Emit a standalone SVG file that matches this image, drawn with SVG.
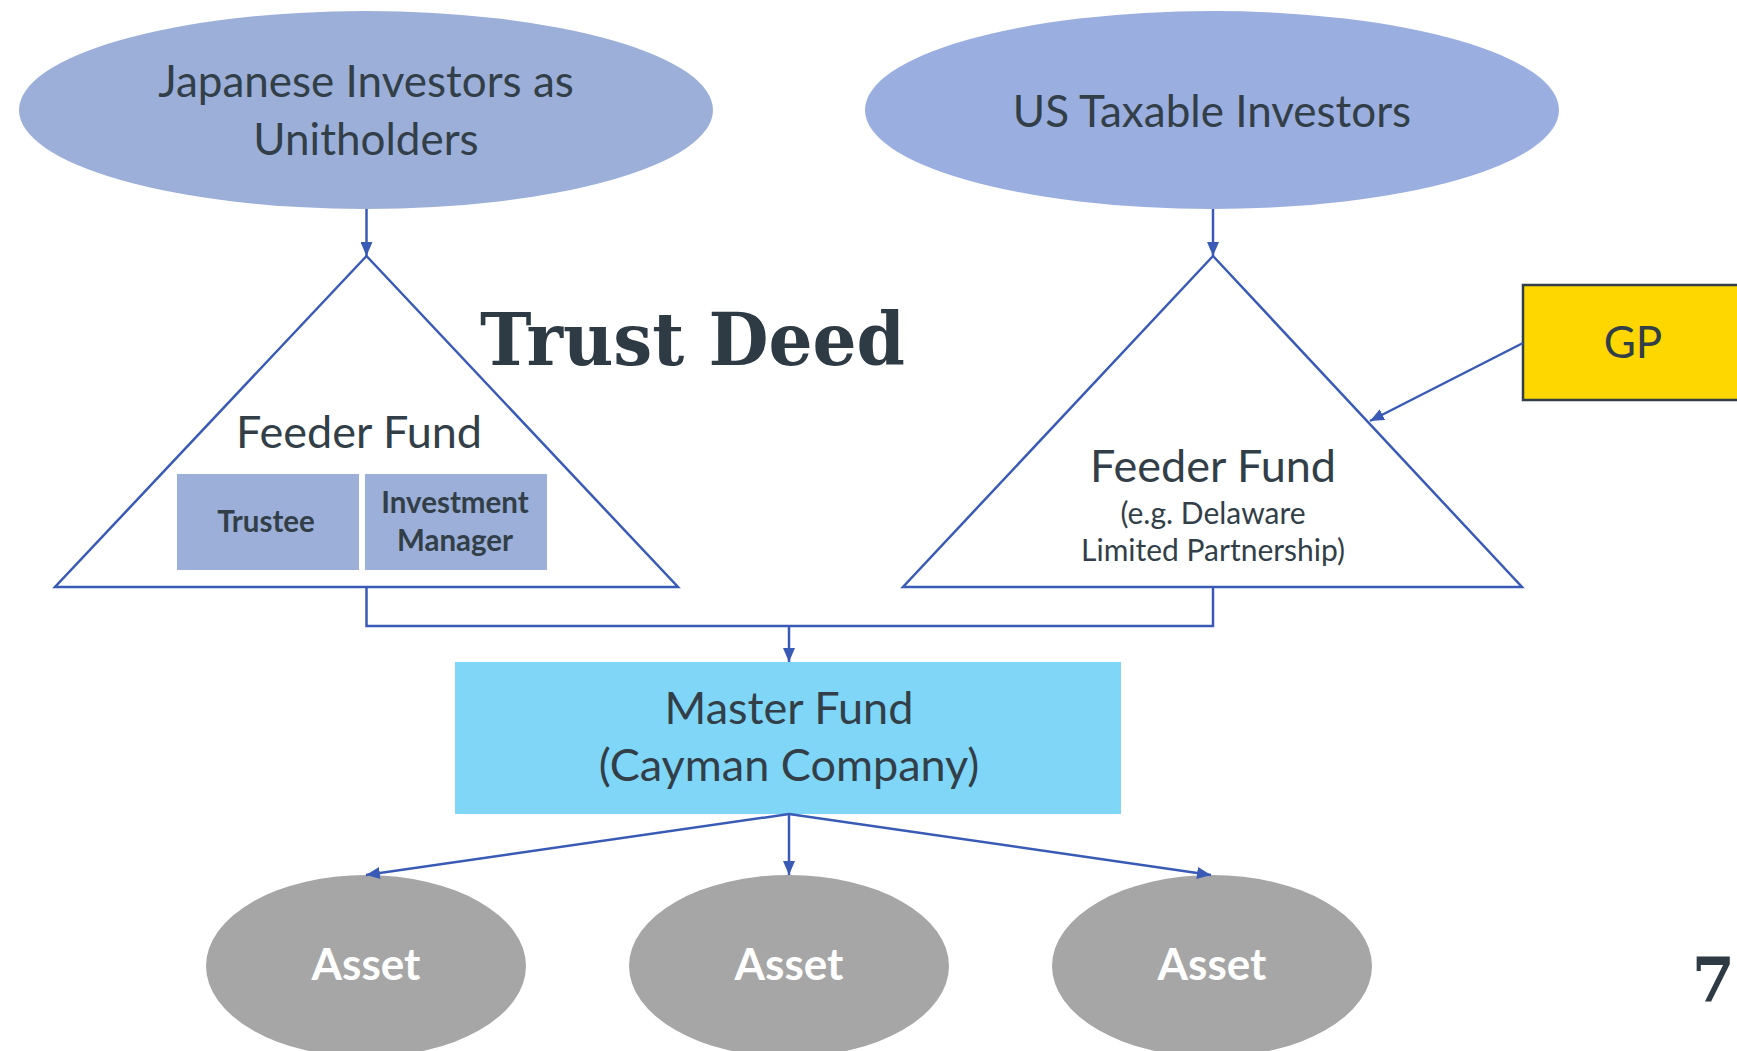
<svg xmlns="http://www.w3.org/2000/svg" width="1737" height="1051" viewBox="0 0 1737 1051">
<defs>
<marker id="ah" viewBox="0 0 14 12" refX="14" refY="6" markerWidth="14" markerHeight="12" markerUnits="userSpaceOnUse" orient="auto">
<path d="M0,0 L14,6 L0,12 Z" fill="#3A5BB5"/>
</marker>
<style>
.t{font-family:Lato,"Liberation Sans",sans-serif;fill:#333F48;text-anchor:middle}
.b{font-weight:bold}
.w{fill:#FFFFFF}
.ln{stroke:#3A5BB5;stroke-width:2.5;fill:none}
.tri{stroke:#3A5BB5;stroke-width:2.5;fill:#FFFFFF}
.sf{font-family:"DejaVu Serif","Liberation Serif",serif;font-weight:bold;fill:#2E3A44}
</style>
</defs>
<rect width="1737" height="1051" fill="#FFFFFF"/>

<g id="jp-investors">
<ellipse cx="366" cy="110" rx="347" ry="99" fill="#9CAFD8"/>
<text class="t" x="366" y="97" font-size="44">Japanese Investors as</text>
<text class="t" x="366" y="155" font-size="44">Unitholders</text>
</g>

<g id="us-investors">
<ellipse cx="1212" cy="110" rx="347" ry="99" fill="#9AAEDF"/>
<text class="t" x="1212" y="127" font-size="44">US Taxable Investors</text>
</g>

<g id="trust-deed">
<text class="sf" x="480" y="365" font-size="72" textLength="425" lengthAdjust="spacingAndGlyphs">Trust Deed</text>
</g>

<g id="feeder-left">
<polygon class="tri" points="366.5,256 55,587 678,587"/>
<text class="t" x="359" y="448" font-size="45">Feeder Fund</text>
</g>

<g id="trustee">
<rect x="177" y="474" width="182" height="96" fill="#9CAFD8"/>
<text class="t b" x="266" y="532" font-size="29.5">Trustee</text>
</g>

<g id="investment-manager">
<rect x="365" y="474" width="182" height="96" fill="#9CAFD8"/>
<text class="t b" x="455" y="513" font-size="29.5">Investment</text>
<text class="t b" x="455" y="551" font-size="29.5">Manager</text>
</g>

<g id="feeder-right">
<polygon class="tri" points="1213,256 903,587 1522,587"/>
<text class="t" x="1213" y="482" font-size="45">Feeder Fund</text>
<text class="t" x="1213" y="524" font-size="30">(e.g. Delaware</text>
<text class="t" x="1213" y="561" font-size="30">Limited Partnership)</text>
</g>

<g id="gp">
<rect x="1523" y="285" width="230" height="115" fill="#FFD700" stroke="#333F48" stroke-width="2.5"/>
<text class="t" x="1633" y="358" font-size="44">GP</text>
</g>

<g id="master-fund">
<rect x="455" y="662" width="666" height="152" fill="#7FD6F7"/>
<text class="t" x="789" y="724" font-size="45">Master Fund</text>
<text class="t" x="789" y="781" font-size="45">(Cayman Company)</text>
</g>

<g id="asset-1">
<ellipse cx="366" cy="966" rx="160" ry="91" fill="#A6A6A6"/>
<text class="t b w" x="366" y="980" font-size="44">Asset</text>
</g>
<g id="asset-2">
<ellipse cx="789" cy="966" rx="160" ry="91" fill="#A6A6A6"/>
<text class="t b w" x="789" y="980" font-size="44">Asset</text>
</g>
<g id="asset-3">
<ellipse cx="1212" cy="966" rx="160" ry="91" fill="#A6A6A6"/>
<text class="t b w" x="1212" y="980" font-size="44">Asset</text>
</g>

<g id="page-number">
<text class="sf" x="1735" y="1002" font-size="62" text-anchor="end">7</text>
</g>

<g id="connectors">
<line class="ln" x1="366.5" y1="209" x2="366.5" y2="256" marker-end="url(#ah)"/>
<line class="ln" x1="1213" y1="209" x2="1213" y2="256" marker-end="url(#ah)"/>
<line class="ln" x1="1523" y1="343" x2="1370" y2="421" marker-end="url(#ah)"/>
<polyline class="ln" points="366.5,587 366.5,626 1213,626 1213,587"/>
<line class="ln" x1="789" y1="626" x2="789" y2="662" marker-end="url(#ah)"/>
<line class="ln" x1="789" y1="814" x2="366" y2="875" marker-end="url(#ah)"/>
<line class="ln" x1="789" y1="814" x2="789" y2="875" marker-end="url(#ah)"/>
<line class="ln" x1="789" y1="814" x2="1211" y2="875" marker-end="url(#ah)"/>
</g>
</svg>
